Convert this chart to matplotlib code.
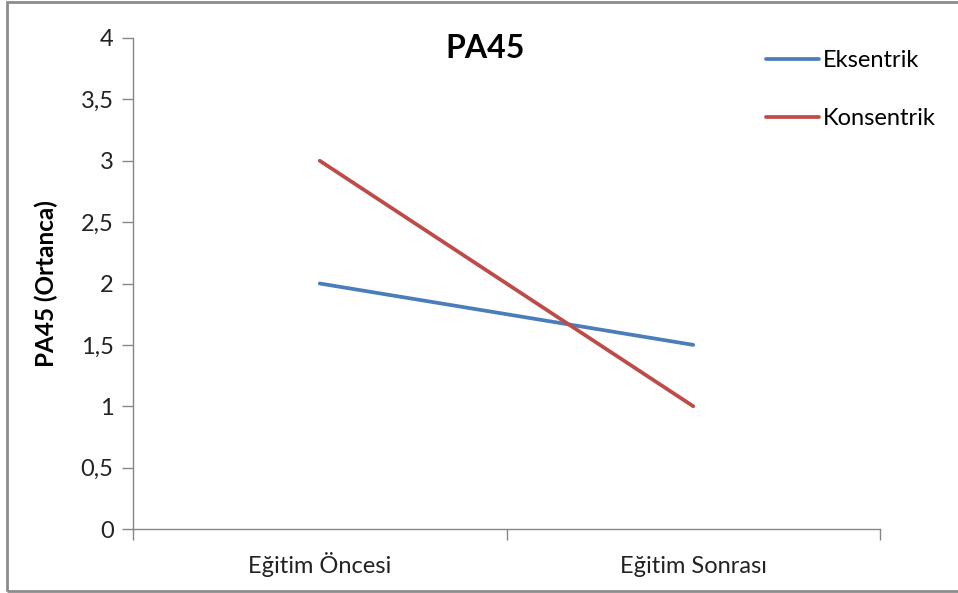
import matplotlib
matplotlib.use("Agg")
from matplotlib import pyplot as plt
from matplotlib.patches import Rectangle
import numpy as np

plt.rcParams['font.family'] = ['Lato', 'DejaVu Sans']

categories = ['Eğitim Öncesi', 'Eğitim Sonrası']
eksentrik = [2, 1.5]
konsentrik = [3, 1]
yticks = [0, 0.5, 1, 1.5, 2, 2.5, 3, 3.5, 4]
ytick_labels = ['0', '0,5', '1', '1,5', '2', '2,5', '3', '3,5', '4']

fig = plt.figure(figsize=(9.58, 5.93), dpi=100)
ax = fig.add_axes([133 / 958, 64 / 593, 747 / 958, 491 / 593])

# chart frame (runs past the right edge)
fig.patches.append(Rectangle((7 / 958, 2 / 593), 1.0, 589 / 593, transform=fig.transFigure,
                             fill=False, edgecolor='#8c8c8c', linewidth=2))

x = np.arange(len(categories)) + 0.5
ax.plot(x, eksentrik, color='#4a7ebb', linewidth=2.7, label='Eksentrik', solid_capstyle='round')
ax.plot(x, konsentrik, color='#be4b48', linewidth=2.7, label='Konsentrik', solid_capstyle='round')

ax.set_xlim(0, len(categories))
ax.set_ylim(0, 4)
ax.set_xticks(np.arange(len(categories) + 1))
ax.set_xticklabels([])
ax.tick_params(axis='x', which='major', length=8, width=1, color='#868686', direction='out')
# category names share one baseline
for xi, name in zip(x, categories):
    ax.text(xi, -44 / 491, name, transform=ax.get_xaxis_transform(),
            ha='center', va='baseline', fontsize=17, color='#222222')
ax.set_yticks(yticks)
ax.set_yticklabels(ytick_labels, fontsize=17, color='#222222')
ax.tick_params(axis='y', length=8, width=1, color='#868686', direction='out', pad=6)

for side in ['top', 'right']:
    ax.spines[side].set_visible(False)
for side in ['left', 'bottom']:
    ax.spines[side].set_color('#868686')
    ax.spines[side].set_linewidth(1)

ax.set_ylabel('PA45 (Ortanca)', fontsize=17.5, fontweight='bold', labelpad=16)
fig.text(485 / 958, 1 - 48 / 593, 'PA45', ha='center', va='center', fontsize=23, fontweight='bold')

ax.legend(loc='upper left', bbox_to_anchor=(745 / 958, 1 - 29 / 593), bbox_transform=fig.transFigure,
          frameon=False, fontsize=17, handlelength=2.25, handletextpad=0.15, labelspacing=1.55)

fig.savefig('out.png', dpi=100)
